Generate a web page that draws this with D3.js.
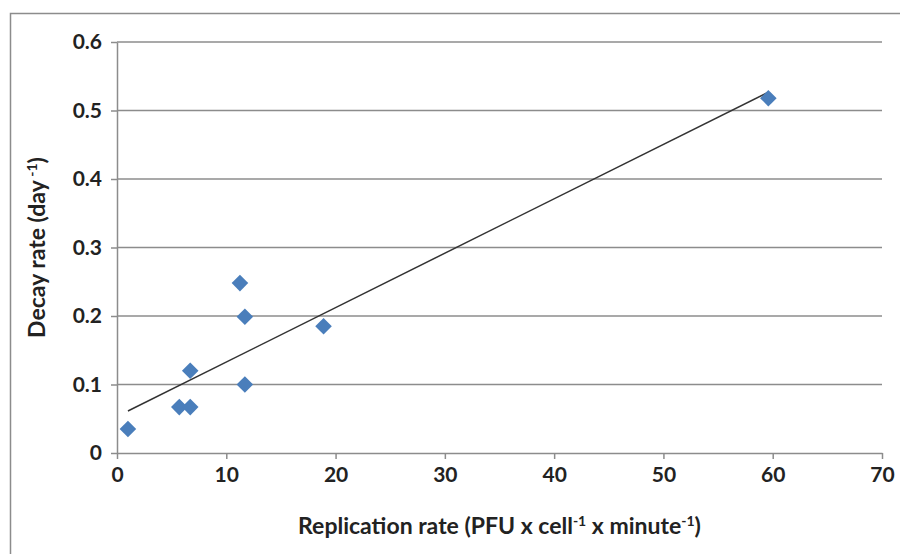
<!DOCTYPE html>
<html>
<head>
<meta charset="utf-8">
<script src="https://cdn.jsdelivr.net/npm/d3@7"></script>
<style>
  body { margin: 0; background: #fff; }
  svg { display: block; }
  .tick text { font-family: Lato, sans-serif; font-weight: bold; font-size: 21px; fill: #222; }
  .title { font-family: Lato, sans-serif; font-weight: bold; font-size: 23px; fill: #222; }
</style>
</head>
<body>
<svg></svg>
<script>
// replication rate (PFU x cell^-1 x minute^-1)
const replication = [1, 5.7, 6.7, 6.7, 11.25, 11.7, 11.7, 18.9, 59.6];
// decay rate (day^-1)
const decay = [0.035, 0.067, 0.067, 0.12, 0.248, 0.199, 0.1, 0.185, 0.518];

const xTicks = [0, 10, 20, 30, 40, 50, 60, 70];
const yTicks = [0, 0.1, 0.2, 0.3, 0.4, 0.5, 0.6];

let width = 900;
let height = 554;
let padLeft = 117, padRight = 882, padTop = 42, padBottom = 453;

let svg = d3.select('svg')
    .attr('width', width)
    .attr('height', height)

// chart area border
svg.append('rect')
   .attr('x', 10.5)
   .attr('y', 13.5)
   .attr('width', 900)
   .attr('height', 600)
   .attr('fill', 'none')
   .attr('stroke', '#8c8c8c')
   .attr('stroke-width', 1.5)

let xScale = d3.scaleLinear().domain([0, 70]).range([padLeft, padRight])
let yScale = d3.scaleLinear().domain([0, 0.6]).range([padBottom, padTop])

// horizontal gridlines
svg.append('g')
   .selectAll('line')
   .data(yTicks.filter(d => d > 0))
   .enter()
   .append('line')
   .attr('x1', padLeft)
   .attr('x2', padRight)
   .attr('y1', d => yScale(d))
   .attr('y2', d => yScale(d))
   .attr('stroke', '#8c8c8c')
   .attr('stroke-width', 1.5)

let xAxis = d3.axisBottom(xScale).tickValues(xTicks).tickSize(6).tickSizeOuter(0).tickPadding(8)
let yAxis = d3.axisLeft(yScale).tickValues(yTicks).tickSize(6).tickSizeOuter(0).tickPadding(9)
    .tickFormat(d => d === 0 ? '0' : d3.format('.1f')(d))

let gx = svg.append('g')
   .attr('transform', 'translate(0,' + padBottom + ')')
   .call(xAxis)
let gy = svg.append('g')
   .attr('transform', 'translate(' + padLeft + ',0)')
   .call(yAxis)

svg.selectAll('.domain, .tick line')
   .attr('stroke', '#8c8c8c')
   .attr('stroke-width', 1.5)

// linear trend line (least squares)
let mx = d3.mean(replication), my = d3.mean(decay)
let sxy = d3.sum(replication, (x, i) => (x - mx) * (decay[i] - my))
let sxx = d3.sum(replication, x => (x - mx) * (x - mx))
let slope = sxy / sxx
let icpt = my - slope * mx
let x0 = d3.min(replication), x1 = d3.max(replication)

svg.append('line')
   .attr('x1', xScale(x0))
   .attr('y1', yScale(icpt + slope * x0))
   .attr('x2', xScale(x1))
   .attr('y2', yScale(icpt + slope * x1))
   .attr('stroke', '#333')
   .attr('stroke-width', 1.5)

// diamond markers
let sym = d3.symbol().type(d3.symbolDiamond2).size(175)
svg.append('g')
   .selectAll('path')
   .data(replication)
   .enter()
   .append('path')
   .attr('d', sym)
   .attr('transform', (d, i) => 'translate(' + xScale(d) + ',' + yScale(decay[i]) + ')')
   .attr('fill', '#4a7ebb')

// axis titles
let xt = svg.append('text')
   .attr('class', 'title')
   .attr('x', (padLeft + padRight) / 2)
   .attr('y', 534)
   .attr('text-anchor', 'middle')
xt.append('tspan').text('Replication rate (PFU x cell')
xt.append('tspan').attr('font-size', 14).attr('dy', -8).text('-1')
xt.append('tspan').attr('dy', 8).text(' x minute')
xt.append('tspan').attr('font-size', 14).attr('dy', -8).text('-1')
xt.append('tspan').attr('dy', 8).text(')')

let yt = svg.append('text')
   .attr('class', 'title')
   .attr('transform', 'translate(45,' + (yScale(0.3)) + ') rotate(-90)')
   .attr('text-anchor', 'middle')
yt.append('tspan').text('Decay rate (day')
yt.append('tspan').attr('font-size', 14).attr('dy', -8).text(' -1')
yt.append('tspan').attr('dy', 8).text(')')
</script>
</body>
</html>
